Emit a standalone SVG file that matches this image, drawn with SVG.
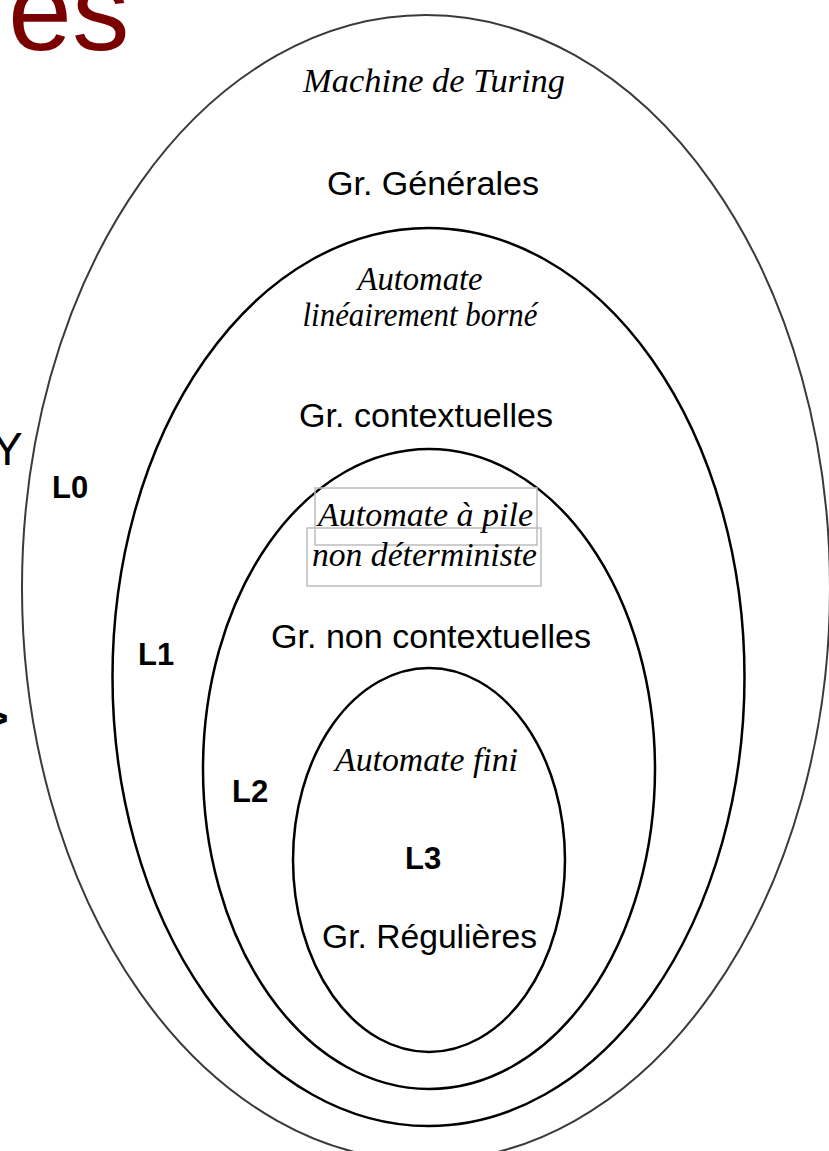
<svg xmlns="http://www.w3.org/2000/svg" width="829" height="1151" viewBox="0 0 829 1151">
<style>
.ell{fill:none;stroke:#000;stroke-width:2.5}
.ell0{fill:none;stroke:#3a3a3a;stroke-width:2}
.it{font-family:"Liberation Serif",serif;font-style:italic;font-size:33px;fill:#000}
.gr{font-family:"Liberation Sans",Arial,sans-serif;font-size:34px;fill:#000}
.lb{font-family:"Liberation Sans",Arial,sans-serif;font-size:31px;font-weight:bold;fill:#000}
.box{fill:none;stroke:#bdbdbd;stroke-width:1.5}
</style>
<rect width="829" height="1151" fill="#fff"/>
<text x="8" y="50" font-family="Liberation Sans, Arial, sans-serif" font-size="115" fill="#7a0000">es</text>
<text x="-8" y="465" font-family="Liberation Sans, Arial, sans-serif" font-size="46" fill="#000">Y</text>
<text x="-15" y="732" font-family="Liberation Sans, Arial, sans-serif" font-size="40" font-weight="bold" fill="#000">&gt;</text>
<g id="L0">
<ellipse class="ell0" cx="426" cy="588" rx="404" ry="573"/>
<text class="it" x="434" y="92" text-anchor="middle" textLength="262" lengthAdjust="spacingAndGlyphs">Machine de Turing</text>
<text class="gr" x="433" y="195" text-anchor="middle" textLength="212" lengthAdjust="spacingAndGlyphs">Gr. Générales</text>
<text class="lb" x="52" y="498">L0</text>
</g>
<g id="L1">
<ellipse class="ell" cx="428.5" cy="677" rx="316" ry="449"/>
<text class="it" x="420" y="290" text-anchor="middle" textLength="125" lengthAdjust="spacingAndGlyphs">Automate</text>
<text class="it" x="420" y="326" text-anchor="middle" textLength="235" lengthAdjust="spacingAndGlyphs">linéairement borné</text>
<text class="gr" x="426" y="427" text-anchor="middle" textLength="254" lengthAdjust="spacingAndGlyphs">Gr. contextuelles</text>
<text class="lb" x="138" y="665">L1</text>
</g>
<g id="L2">
<ellipse class="ell" cx="429" cy="769" rx="226" ry="320"/>
<rect class="box" x="315" y="488" width="222" height="57"/>
<rect class="box" x="307" y="528" width="234" height="58"/>
<text class="it" x="425.5" y="526" text-anchor="middle" textLength="215" lengthAdjust="spacingAndGlyphs">Automate à pile</text>
<text class="it" x="424.5" y="566" text-anchor="middle" textLength="225" lengthAdjust="spacingAndGlyphs">non déterministe</text>
<text class="gr" x="431" y="648" text-anchor="middle" textLength="320" lengthAdjust="spacingAndGlyphs">Gr. non contextuelles</text>
<text class="lb" x="232" y="802">L2</text>
</g>
<g id="L3">
<ellipse class="ell" cx="429" cy="860" rx="136" ry="192"/>
<text class="it" x="426.5" y="771" text-anchor="middle" textLength="183" lengthAdjust="spacingAndGlyphs">Automate fini</text>
<text class="lb" x="405" y="869">L3</text>
<text class="gr" x="429.5" y="948" text-anchor="middle" textLength="215" lengthAdjust="spacingAndGlyphs">Gr. Régulières</text>
</g>
<g id="connectors"></g>
</svg>
